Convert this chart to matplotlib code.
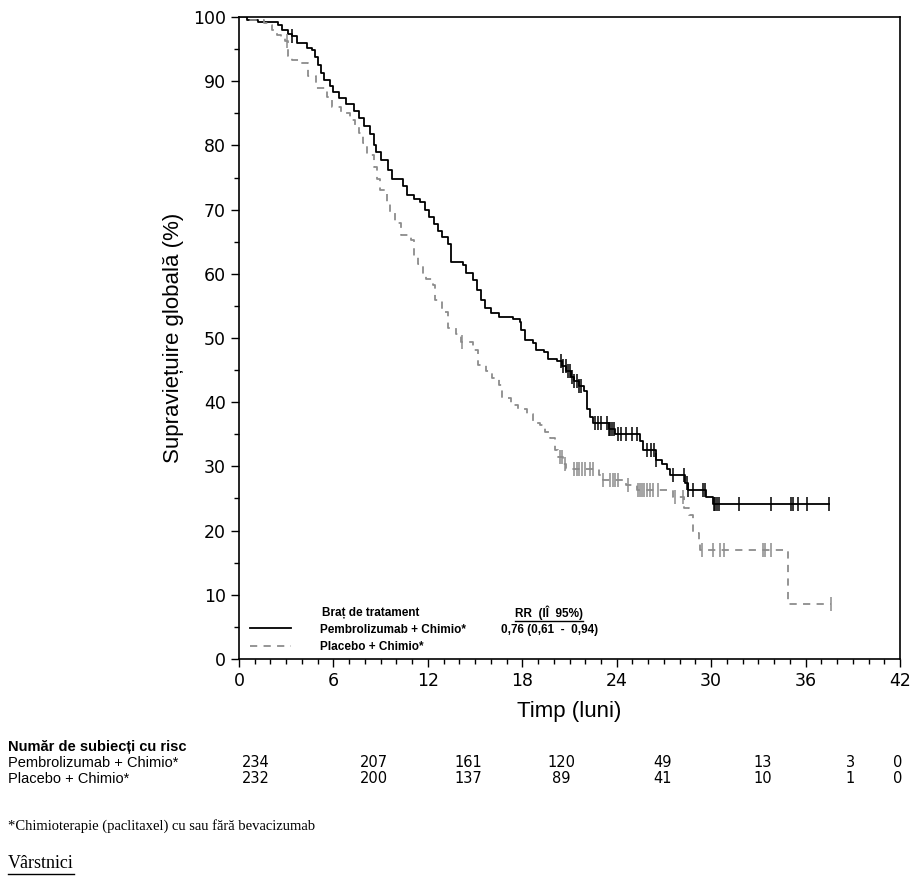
import numpy as np
import matplotlib
matplotlib.use("Agg")
import matplotlib.pyplot as plt
from matplotlib.lines import Line2D

# === Kaplan-Meier step data (months, % alive) ===
pem_t = [0, 0.5, 1.2, 2.5, 2.75, 3.1, 3.4, 3.7, 4.3, 4.65, 4.85, 5.0, 5.2, 5.4, 5.8,
         6.0, 6.35, 6.8, 7.3, 7.6, 7.95, 8.3, 8.6, 8.7, 9.05, 9.5, 9.7, 10.45, 10.65,
         11.1, 11.5, 11.8, 12.1, 12.4, 12.65, 12.9, 13.3, 13.5, 14.25, 14.45, 14.85,
         15.15, 15.35, 15.65, 16.0, 16.5, 17.4, 17.85, 17.95, 18.15, 18.7, 18.9, 19.35,
         19.65, 20.2, 20.5, 20.8, 21.1, 21.3, 21.6, 21.9, 22.1, 22.3, 22.5, 23.5, 23.9,
         25.5, 25.7, 26.5, 26.85, 27.2, 27.4, 28.35, 28.5, 29.7, 30.1, 37.5]
pem_s = [100, 99.5, 99.2, 98.7, 98.0, 97.4, 97.0, 96.0, 95.2, 94.9, 93.8, 92.5, 91.3,
         90.2, 89.2, 88.3, 87.4, 86.5, 85.4, 84.3, 83.1, 81.8, 80.0, 79.0, 77.7, 76.2,
         74.7, 73.6, 72.3, 71.7, 71.2, 69.9, 68.9, 67.8, 66.6, 65.8, 64.7, 61.9, 61.4,
         60.2, 59.0, 57.5, 55.9, 54.6, 53.9, 53.3, 53.0, 52.5, 51.2, 49.7, 49.2, 48.1,
         47.8, 46.8, 46.4, 45.6, 44.8, 44.0, 43.3, 42.5, 41.8, 39.0, 37.7, 36.7, 35.9,
         35.0, 33.9, 32.6, 31.0, 30.4, 29.6, 28.6, 27.4, 26.4, 25.2, 24.2, 24.2]
pem_cens = [3.4, 20.45, 20.6, 20.75, 20.9, 21.0, 21.15, 21.3, 21.45, 21.6, 21.75, 22.6,
            22.8, 23.0, 23.4, 23.5, 23.6, 23.7, 23.8, 24.1, 24.3, 24.6, 25.0, 25.3, 25.9,
            26.2, 26.4, 26.5, 27.6, 28.3, 28.45, 28.55, 28.85, 29.5, 29.6, 30.15, 30.25,
            30.35, 30.5, 31.8, 33.8, 35.1, 35.2, 35.5, 36.1, 37.5]

pla_t = [0, 0.7, 1.6, 1.9, 2.1, 2.4, 2.65, 2.95, 3.1, 3.4, 3.8, 4.4, 4.9, 5.6, 5.9, 6.5,
         7.05, 7.4, 7.6, 7.9, 8.15, 8.55, 8.75, 8.95, 9.4, 9.6, 9.9, 10.3, 10.9, 11.1,
         11.4, 11.7, 11.9, 12.35, 12.45, 12.9, 13.3, 13.8, 14.1, 14.9, 15.2, 15.7,
         16.05, 16.5, 16.7, 17.3, 17.75, 18.3, 18.7, 19.1, 19.45, 19.75, 20.05, 20.3,
         20.6, 20.8, 22.9, 23.1, 24.6, 25.3, 27.6, 28.3, 28.6, 28.85, 29.2, 29.3, 34.9,
         37.6]
pla_s = [100, 99.5, 99.0, 98.7, 98.0, 97.2, 96.7, 96.2, 94.0, 93.3, 92.8, 90.8, 88.9,
         87.6, 86.0, 85.0, 84.0, 83.2, 81.9, 80.3, 78.5, 76.6, 74.8, 73.0, 71.2, 69.4,
         67.9, 66.0, 65.2, 62.7, 61.6, 60.0, 59.2, 58.3, 55.9, 54.1, 51.5, 50.7, 49.4,
         48.1, 45.8, 44.8, 43.7, 42.7, 40.6, 39.6, 39.0, 38.2, 36.7, 36.4, 35.4, 34.4,
         32.5, 31.4, 30.4, 29.6, 28.6, 27.9, 27.1, 26.3, 25.2, 23.5, 22.5, 19.6, 18.5,
         17.0, 8.5, 8.5]
pla_cens = [3.05, 14.15, 20.4, 20.55, 20.7, 21.3, 21.5, 21.6, 21.8, 22.0, 22.3, 22.5,
            23.15, 23.6, 23.75, 23.9, 24.1, 24.7, 25.35, 25.5, 25.6, 25.75, 25.9, 26.1,
            26.3, 26.6, 27.7, 28.2, 29.4, 30.1, 30.55, 30.8, 33.3, 33.45, 33.8, 37.6]

arms = ["Pembrolizumab + Chimio*", "Placebo + Chimio*"]
risk_times = [0, 6, 12, 18, 24, 30, 36, 42]
risk_pem = [234, 207, 161, 120, 49, 13, 3, 0]
risk_pla = [232, 200, 137, 89, 41, 10, 1, 0]
risk_x = [0.279, 0.408, 0.511, 0.612, 0.723, 0.832, 0.927, 0.979]  # figure fraction

GRAY = "#8c8c8c"

plt.rcParams.update({
    "font.family": ["Liberation Sans", "DejaVu Sans"],
    "font.size": 10,
})

fig = plt.figure(figsize=(9.17, 8.91), dpi=100)
ax = fig.add_axes([0.2606, 0.2604, 0.7209, 0.7205])


def censor_y(t_steps, s_steps, cens):
    idx = np.searchsorted(t_steps, cens, side="right") - 1
    return np.array(s_steps)[idx]


ax.step(pem_t, pem_s, where="post", color="k", lw=1.3, label=arms[0])
ax.step(pla_t, pla_s, where="post", color=GRAY, lw=1.3, ls=(0, (4, 3.5)), label=arms[1])
ax.plot(pem_cens, censor_y(pem_t, pem_s, pem_cens), ls="none", marker="|",
        ms=10, mew=1.1, color="k")
ax.plot(pla_cens, censor_y(pla_t, pla_s, pla_cens), ls="none", marker="|",
        ms=10, mew=1.1, color=GRAY)

ax.set_xlim(0, 42)
ax.set_ylim(0, 100)
ax.set_xticks(np.arange(0, 43, 6))
ax.set_xticks(np.arange(0, 43, 1), minor=True)
ax.set_yticks(np.arange(0, 101, 10))
ax.set_yticks(np.arange(0, 101, 5), minor=True)
ax.tick_params(which="major", direction="out", length=6, width=1, labelsize=12.5,
               labelfontfamily="DejaVu Sans")
ax.tick_params(which="minor", direction="out", length=3.5, width=1)
for sp in ax.spines.values():
    sp.set_linewidth(1.2)
ax.set_xlabel("Timp (luni)", fontsize=16, labelpad=8)
ax.set_ylabel("Supraviețuire globală (%)", fontsize=16, labelpad=6)

# --- legend block ---
leg_font = {"family": "Liberation Sans", "weight": "bold", "size": 8.5}
ax.text(0.125, 0.0717, "Braț de tratament", transform=ax.transAxes, va="center", **leg_font)
ax.legend(loc="lower left", bbox_to_anchor=(0.0, -0.008), frameon=False,
          handlelength=3.5, handletextpad=2.5, labelspacing=0.5,
          prop=leg_font)
rr_head = ax.text(0.417, 0.0717, "RR  (IÎ  95%)", transform=ax.transAxes,
                  va="center", **leg_font)
ax.text(0.397, 0.045, "0,76 (0,61  -  0,94)", transform=ax.transAxes,
        va="center", **leg_font)

# --- number at risk table ---
fig.text(0.009, 0.157, "Număr de subiecți cu risc", fontsize=10.5, weight="bold")
fig.text(0.009, 0.139, arms[0], fontsize=10.5)
fig.text(0.009, 0.121, arms[1], fontsize=10.5)
for x, a, b in zip(risk_x, risk_pem, risk_pla):
    fig.text(x, 0.139, str(a), fontsize=10.5, ha="center", family="DejaVu Sans")
    fig.text(x, 0.121, str(b), fontsize=10.5, ha="center", family="DejaVu Sans")

fig.text(0.009, 0.069, "*Chimioterapie (paclitaxel) cu sau fără bevacizumab",
         fontsize=10.5, family="Liberation Serif")
vt = fig.text(0.009, 0.026, "Vârstnici", fontsize=13, family="Liberation Serif")

# underline helpers
fig.canvas.draw()
inv = fig.transFigure.inverted()
for t, off in [(rr_head, 0.5), (vt, 2)]:
    bb = t.get_window_extent()
    (x0, y0), (x1, _) = inv.transform([(bb.x0, bb.y0 - off), (bb.x1, bb.y0 - off)])
    fig.add_artist(Line2D([x0, x1], [y0, y0], transform=fig.transFigure,
                          color="k", lw=1.0, zorder=10))

fig.savefig("out.png", dpi=100)
